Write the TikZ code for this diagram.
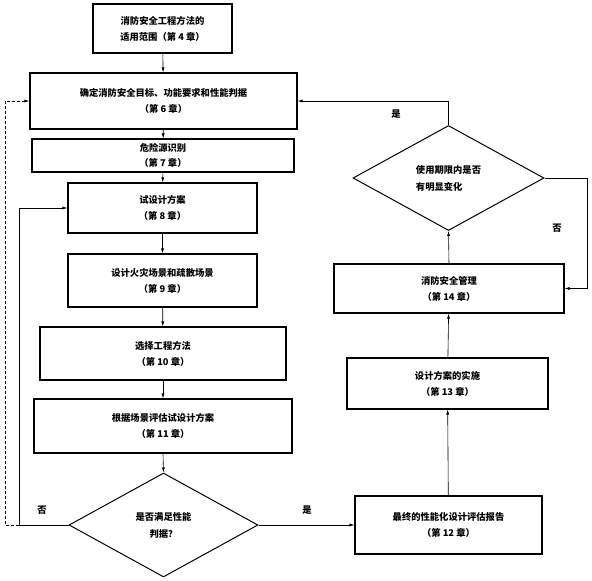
\documentclass[tikz,border=0pt]{standalone}
\usepackage{fontspec}
\setmainfont{Noto Sans CJK SC}
\usetikzlibrary{shapes.geometric,arrows.meta}
\tikzset{
  box/.style={draw, line width=1.1pt, rectangle, inner sep=0pt, align=center,
    font=\fontsize{9.3pt}{16pt}\selectfont\bfseries},
  dia/.style={draw, line width=1pt, diamond, inner sep=0pt, aspect=1.8,
    font=\fontsize{9.3pt}{17pt}\selectfont\bfseries},
  conn/.style={line width=0.6pt, -{Latex[length=5pt,width=3pt]}},
  dconn/.style={conn, dashed, dash pattern=on 3pt off 2pt},
  lbl/.style={font=\fontsize{9.3pt}{11pt}\selectfont\bfseries, inner sep=0pt}
}
\begin{document}
\begin{tikzpicture}[x=1pt,y=-1pt]
\useasboundingbox (0,0) rectangle (592,581);
% left column
\node[box, minimum width=139pt, minimum height=49pt] (b4) at (162.5,28.5) {消防安全工程方法的\\适用范围（第 4 章）};
\node[box, minimum width=267pt, minimum height=56pt] (b6) at (163.5,101) {确定消防安全目标、功能要求和性能判据\\（第 6 章）};
\node[box, minimum width=262pt, minimum height=33pt, font=\fontsize{9.3pt}{15pt}\selectfont\bfseries] (b7) at (163,155.5) {危险源识别\\（第 7 章）};
\node[box, minimum width=189pt, minimum height=50pt] (b8) at (162.5,208) {试设计方案\\（第 8 章）};
\node[box, minimum width=189pt, minimum height=53pt] (b9) at (162.5,280.5) {设计火灾场景和疏散场景\\（第 9 章）};
\node[box, minimum width=246pt, minimum height=53pt] (b10) at (163,353.5) {选择工程方法\\（第 10 章）};
\node[box, minimum width=258pt, minimum height=54pt] (b11) at (163,426) {根据场景评估试设计方案\\（第 11 章）};
\node[dia, minimum width=189pt, minimum height=104pt, align=center] (d1) at (163.5,525) {是否满足性能\\判据？};
% right column
\node[box, minimum width=187pt, minimum height=58pt] (b12) at (448.5,525) {最终的性能化设计评估报告\\（第 12 章）};
\node[box, minimum width=201pt, minimum height=51pt] (b13) at (447.5,383.5) {设计方案的实施\\（第 13 章）};
\node[box, minimum width=230pt, minimum height=49pt] (b14) at (449,288.5) {消防安全管理\\（第 14 章）};
\node[dia, minimum width=191pt, minimum height=105pt, align=left] (d2) at (448.5,178) {使用期限内是否\\有明显变化};
% labels
\node[lbl] (l1) at (396,114) {是};
\node[lbl] (l2) at (557,228) {否};
\node[lbl] (l3) at (42,510) {否};
\node[lbl] (l4) at (307,510) {是};
% helper coordinates
\coordinate (c1) at (19,525);
\coordinate (c2) at (19,208);
\coordinate (c3) at (5,525);
\coordinate (c4) at (5,101);
\coordinate (c5) at (448.5,101);
\coordinate (c6) at (587,178);
\coordinate (c7) at (587,288.5);
% connectors
\draw[conn] (b4) -- (b6);
\draw[conn] (b6) -- (b7);
\draw[conn] (b7) -- (b8);
\draw[conn] (b8) -- (b9);
\draw[conn] (b9) -- (b10);
\draw[conn] (b10) -- (b11);
\draw[conn] (b11.south) -- (d1.north);
\draw[conn] (d1.east) -- (b12.west);
\draw[conn] (b12) -- (b13);
\draw[conn] (b13) -- (b14);
\draw[conn] (b14.north) -- (d2.south);
\draw[conn] (d2.north) -- (c5) -- (b6.east);
\draw[conn] (d2.east) -- (c6) -- (c7) -- (b14.east);
\draw[conn] (d1.west) -- (c1) -- (c2) -- (b8.west);
\draw[dconn] (c1) -- (c3) -- (c4) -- (b6.west);
\end{tikzpicture}
\end{document}
